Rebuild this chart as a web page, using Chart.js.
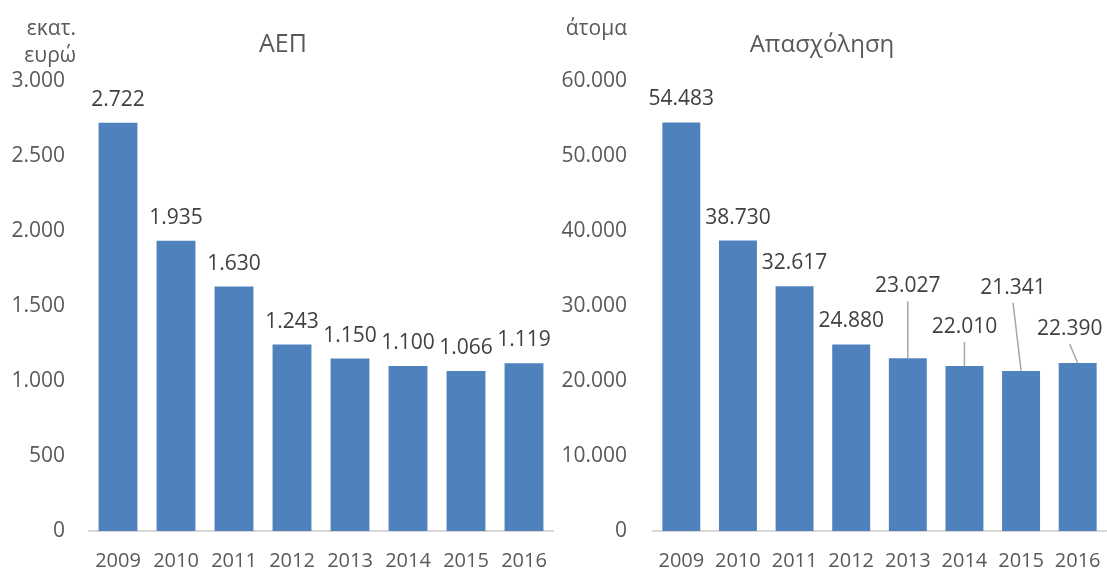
<!DOCTYPE html>
<html>
<head>
<meta charset="utf-8">
<script src="https://cdn.jsdelivr.net/npm/chart.js@4"></script>
<style>
  html, body { margin: 0; padding: 0; background: #fff; }
  #wrap { position: relative; width: 1107px; height: 572px; }
  #gdp-box { position: absolute; left: 0; top: 0; width: 560px; height: 572px; }
  #emp-box { position: absolute; left: 560px; top: 0; width: 547px; height: 572px; }
</style>
</head>
<body>
<div id="wrap">
  <div id="gdp-box"><canvas id="gdp-chart"></canvas></div>
  <div id="emp-box"><canvas id="emp-chart"></canvas></div>
</div>
<script>
const years = ['2009', '2010', '2011', '2012', '2013', '2014', '2015', '2016'];
const gdpValues = [2722, 1935, 1630, 1243, 1150, 1100, 1066, 1119];
const employmentValues = [54483, 38730, 32617, 24880, 23027, 22010, 21341, 22390];
const gdpTicks = [0, 500, 1000, 1500, 2000, 2500, 3000];
const employmentTicks = [0, 10000, 20000, 30000, 40000, 50000, 60000];

const BAR_COLOR = '#4f81bd';
const FONT = "'Open Sans', sans-serif";

// label placement for the employment chart (Excel moved some labels up with leader lines)
const empLabelLift = [17, 17, 17, 17, 66, 33, 77, 28];
const empLabelShift = [0, 0, 0, 0, 0, 0, -8, -8];

function fmt(n) {
    return String(n).replace(/\B(?=(\d{3})+(?!\d))/g, '.');
}

const textPlugin = {
    id: 'extraText',
    afterDraw(chart, args, opts) {
        const ctx = chart.ctx;
        ctx.save();
        ctx.textBaseline = 'alphabetic';
        (opts.items || []).forEach(t => {
            ctx.font = t.font;
            ctx.fillStyle = t.color;
            ctx.textAlign = t.align;
            ctx.fillText(t.text, t.x, t.y);
        });
        ctx.restore();
    }
};

const barLabels = {
    id: 'barLabels',
    afterDatasetsDraw(chart, args, opts) {
        const ctx = chart.ctx;
        const meta = chart.getDatasetMeta(0);
        const data = chart.data.datasets[0].data;
        const lift = opts.lift || [];
        const shift = opts.shift || [];
        ctx.save();
        ctx.font = '21px ' + FONT;
        ctx.textAlign = 'center';
        ctx.textBaseline = 'alphabetic';
        meta.data.forEach((bar, i) => {
            const dy = lift[i] !== undefined ? lift[i] : 17;
            const dx = shift[i] || 0;
            const tx = bar.x + dx;
            const ty = bar.y - dy;
            if (dy > 25) {
                ctx.strokeStyle = '#a6a6a6';
                ctx.lineWidth = 1.5;
                ctx.beginPath();
                ctx.moveTo(tx, ty + 9);
                ctx.lineTo(bar.x, bar.y);
                ctx.stroke();
            }
            ctx.fillStyle = '#404040';
            ctx.fillText(fmt(data[i]), tx, ty);
        });
        ctx.restore();
    }
};

function makeChart(canvasId, values, ticks, yWidth, tickPad, rightPad, texts, lift, shift) {
    const ctx = document.getElementById(canvasId).getContext('2d');
    return new Chart(ctx, {
        type: 'bar',
        data: {
            labels: years,
            datasets: [{
                data: values,
                backgroundColor: BAR_COLOR,
                barPercentage: 0.67,
                categoryPercentage: 1.0
            }]
        },
        options: {
            responsive: true,
            maintainAspectRatio: false,
            animation: false,
            layout: { padding: { top: 81, right: rightPad, bottom: 0, left: 0 } },
            plugins: {
                legend: { display: false },
                tooltip: { enabled: false },
                extraText: { items: texts },
                barLabels: { lift: lift, shift: shift }
            },
            scales: {
                x: {
                    grid: { display: false, drawTicks: false },
                    border: { display: true, color: '#d9d9d9', width: 2 },
                    ticks: { color: '#595959', font: { family: FONT, size: 20 }, padding: 18, maxRotation: 0 },
                    afterFit: (s) => { s.height = 41; s.paddingLeft = 0; s.paddingRight = 0; }
                },
                y: {
                    min: ticks[0],
                    max: ticks[ticks.length - 1],
                    afterBuildTicks: (s) => { s.ticks = ticks.map(v => ({ value: v })); },
                    grid: { display: false, drawTicks: false },
                    border: { display: false },
                    ticks: {
                        color: '#595959',
                        font: { family: FONT, size: 21 },
                        padding: tickPad,
                        callback: (v) => fmt(v)
                    },
                    afterFit: (s) => { s.width = yWidth; }
                }
            }
        },
        plugins: [barLabels, textPlugin]
    });
}

makeChart('gdp-chart', gdpValues, gdpTicks, 89, 24, 7, [
    { text: 'εκατ.', x: 76, y: 35, font: '21px ' + FONT, color: '#595959', align: 'right' },
    { text: 'ευρώ', x: 76, y: 62, font: '21px ' + FONT, color: '#595959', align: 'right' },
    { text: 'ΑΕΠ', x: 283, y: 52, font: '25px ' + FONT, color: '#595959', align: 'center' }
], [], []);

makeChart('emp-chart', employmentValues, employmentTicks, 93, 26, 1, [
    { text: 'άτομα', x: 67, y: 35, font: '21px ' + FONT, color: '#595959', align: 'right' },
    { text: 'Απασχόληση', x: 262, y: 52, font: '24px ' + FONT, color: '#595959', align: 'center' }
], empLabelLift, empLabelShift);
</script>
</body>
</html>
